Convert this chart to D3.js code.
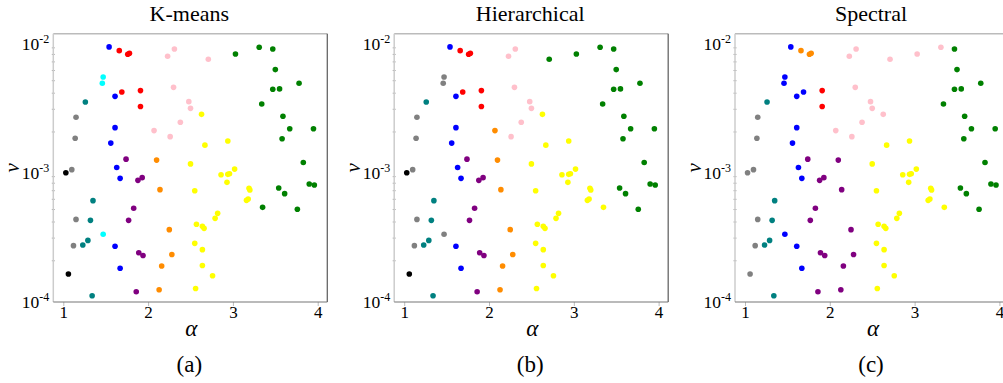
<!DOCTYPE html>
<html>
<head>
<meta charset="utf-8">
<script src="https://cdn.jsdelivr.net/npm/d3@7"></script>
<style>
  body { margin: 0; background: #fff; }
</style>
</head>
<body>
<script>
// point coordinates (same 96 points in every panel)
var alpha = [
  1.54, 1.66, 1.76, 1.78, 2.23, 2.31, 2.71, 3.03, 3.31, 3.47,
  3.50, 1.47, 1.46, 3.78, 1.69, 1.91, 2.30, 3.47, 3.55, 1.26,
  1.61, 2.48, 2.50, 1.91, 3.34, 1.15, 2.63, 3.59, 2.38, 1.61,
  3.67, 3.95, 2.07, 2.26, 1.14, 1.56, 2.67, 2.94, 3.58, 1.74,
  2.10, 2.50, 3.83, 1.63, 3.02, 1.10, 1.03, 1.67, 1.88, 1.93,
  2.86, 2.94, 2.96, 2.93, 3.90, 3.96, 2.14, 2.55, 3.54, 3.19,
  3.20, 3.61, 1.35, 3.18, 3.16, 3.35, 1.83, 3.76, 2.82, 2.79,
  1.15, 1.32, 1.77, 2.57, 2.64, 2.66, 2.25, 1.47, 1.29, 1.23,
  1.12, 1.61, 2.55, 2.64, 1.89, 1.94, 2.28, 2.16, 2.64, 1.67,
  1.06, 2.76, 2.56, 2.13, 1.86, 1.34
];
var nu = [
  9.15e-3, 8.56e-3, 8.02e-3, 8.17e-3, 7.74e-3, 8.82e-3, 7.34e-3, 8.07e-3, 9.09e-3, 8.82e-3,
  6.10e-3, 5.35e-3, 4.78e-3, 4.78e-3, 4.09e-3, 4.19e-3, 4.44e-3, 4.29e-3, 4.32e-3, 3.42e-3,
  3.78e-3, 3.44e-3, 3.05e-3, 3.15e-3, 3.30e-3, 2.60e-3, 2.74e-3, 2.65e-3, 2.38e-3, 2.16e-3,
  2.12e-3, 2.12e-3, 2.05e-3, 1.84e-3, 1.79e-3, 1.64e-3, 1.58e-3, 1.70e-3, 1.77e-3, 1.23e-3,
  1.21e-3, 1.13e-3, 1.16e-3, 1.06e-3, 1.03e-3, 1.02e-3, 9.66e-4, 8.73e-4, 8.42e-4, 8.84e-4,
  9.32e-4, 9.38e-4, 9.49e-4, 8.13e-4, 7.89e-4, 7.75e-4, 7.13e-4, 7.00e-4, 7.35e-4, 7.30e-4,
  7.09e-4, 6.64e-4, 5.86e-4, 6.03e-4, 5.89e-4, 5.20e-4, 5.11e-4, 5.02e-4, 4.67e-4, 4.27e-4,
  4.19e-4, 4.12e-4, 4.12e-4, 3.84e-4, 3.70e-4, 3.57e-4, 3.49e-4, 3.21e-4, 2.88e-4, 2.65e-4,
  2.62e-4, 2.59e-4, 2.73e-4, 2.44e-4, 2.31e-4, 2.20e-4, 2.24e-4, 1.82e-4, 1.84e-4, 1.75e-4,
  1.58e-4, 1.53e-4, 1.22e-4, 1.19e-4, 1.15e-4, 1.07e-4
];

// cluster id of every point, one list per method
// 0 black, 1 gray, 2 teal, 3 cyan, 4 blue, 5 purple, 6 red, 7 orange, 8 pink, 9 yellow, 10 green
var kmeans = [
  4, 6, 6, 6, 8, 8, 8, 10, 10, 10,
  10, 3, 3, 10, 6, 6, 8, 10, 10, 2,
  4, 8, 8, 6, 10, 1, 9, 10, 8, 4,
  10, 10, 8, 8, 1, 4, 9, 9, 10, 5,
  7, 9, 10, 4, 9, 1, 0, 4, 5, 5,
  9, 9, 9, 9, 10, 10, 7, 9, 10, 9,
  9, 10, 2, 9, 9, 10, 5, 10, 9, 9,
  1, 2, 5, 9, 9, 9, 7, 3, 2, 2,
  1, 4, 9, 9, 5, 5, 7, 7, 9, 4,
  0, 9, 9, 7, 5, 2
];
var hierarchical = [
  4, 6, 6, 6, 8, 8, 10, 10, 10, 10,
  10, 1, 1, 10, 6, 6, 8, 10, 10, 2,
  4, 8, 8, 6, 10, 1, 9, 10, 8, 4,
  10, 10, 7, 8, 1, 4, 9, 9, 10, 5,
  7, 9, 10, 4, 9, 1, 0, 4, 5, 5,
  9, 9, 9, 9, 10, 10, 7, 9, 10, 9,
  9, 10, 2, 9, 9, 9, 5, 10, 9, 9,
  1, 2, 5, 9, 9, 9, 7, 1, 2, 2,
  1, 4, 9, 9, 5, 5, 7, 7, 9, 4,
  0, 9, 9, 7, 5, 2
];
var spectral = [
  4, 7, 7, 7, 8, 8, 8, 8, 8, 10,
  10, 4, 4, 10, 4, 6, 8, 10, 10, 2,
  4, 8, 8, 6, 10, 1, 8, 10, 8, 4,
  10, 10, 8, 8, 1, 4, 9, 9, 10, 5,
  5, 9, 10, 4, 9, 1, 1, 4, 5, 5,
  9, 9, 9, 9, 10, 10, 5, 9, 10, 9,
  9, 10, 2, 9, 9, 9, 5, 10, 9, 9,
  1, 2, 5, 9, 9, 9, 5, 4, 2, 2,
  1, 4, 9, 9, 5, 5, 5, 5, 9, 4,
  1, 9, 9, 5, 5, 2
];

var titles = ["K-means", "Hierarchical", "Spectral"];
var captions = ["(a)", "(b)", "(c)"];
var xTicks = [1, 2, 3, 4];
var yTicks = [1e-2, 1e-3, 1e-4];
var clusterColors = ["black", "gray", "teal", "cyan", "blue", "purple",
                     "red", "darkorange", "pink", "yellow", "green"];

var serif = "'Liberation Serif', 'DejaVu Serif', 'Times New Roman', serif";

var width = 1003;
var height = 383;
var svg = d3.select("body").append("svg").attr("width", width).attr("height", height);

var panelLeft = [53.3, 394.2, 735];
var plotW = 274;
var plotTop = 33.7;
var plotBottom = 302;

var x = d3.scaleLinear().domain([0.882, 4.113]).range([0, plotW]);
var y = d3.scaleLog().domain([Math.pow(10, -4.019), Math.pow(10, -1.936)]).range([plotBottom, plotTop]);
var color = d3.scaleOrdinal().domain(d3.range(clusterColors.length)).range(clusterColors);

var points = alpha.map(function(a, i) { return { a: a, v: nu[i], i: i }; });

var minorTicks = [];
[1e-4, 1e-3].forEach(function(base) {
  for (var k = 2; k <= 9; k++) minorTicks.push(base * k);
});

[kmeans, hierarchical, spectral].forEach(function(labels, p) {
  var g = svg.append("g").attr("transform", "translate(" + panelLeft[p] + ",0)");

  // x axis ticks and labels
  var xAxis = g.append("g").attr("transform", "translate(0," + plotBottom + ")")
    .call(d3.axisBottom(x).tickValues(xTicks).tickSize(4).tickPadding(0).tickFormat(d3.format("d")));
  xAxis.select(".domain").remove();
  xAxis.selectAll("line").attr("stroke", "#bbb");
  xAxis.selectAll("text").style("font-size", "17px")
    .style("font-family", serif).attr("fill", "#000");

  // y minor ticks
  g.selectAll(".minor").data(minorTicks).enter().append("line")
    .attr("class", "minor")
    .attr("x1", -1.5).attr("x2", 1.5)
    .attr("y1", function(d) { return y(d); }).attr("y2", function(d) { return y(d); })
    .attr("stroke", "#aaa").attr("stroke-width", 1);

  // y tick labels 10^k
  var yl = g.selectAll(".ylab").data(yTicks).enter().append("text")
    .attr("class", "ylab")
    .attr("x", -4)
    .attr("y", function(d) { return y(d) + 8.5; })
    .attr("text-anchor", "end")
    .style("font-family", serif)
    .style("font-size", "17.5px");
  yl.append("tspan").text("10");
  yl.append("tspan").style("font-size", "12px").attr("dy", -7.5)
    .text(function(d) { return "-" + Math.round(-Math.log10(d)); });

  // points
  g.selectAll("circle").data(points).enter().append("circle")
    .attr("cx", function(d) { return x(d.a); })
    .attr("cy", function(d) { return y(d.v); })
    .attr("r", 2.8)
    .attr("fill", function(d) { return color(labels[d.i]); });

  // frame
  g.append("line").attr("x1", 0).attr("x2", plotW).attr("y1", plotTop).attr("y2", plotTop)
    .attr("stroke", "#bbb").attr("stroke-width", 1.6);
  g.append("line").attr("x1", 0).attr("x2", 0).attr("y1", plotTop).attr("y2", plotBottom)
    .attr("stroke", "#ccc").attr("stroke-width", 1.5);
  g.append("line").attr("x1", plotW).attr("x2", plotW).attr("y1", plotTop).attr("y2", plotBottom)
    .attr("stroke", "#666").attr("stroke-width", 1.3);
  g.append("line").attr("x1", 0).attr("x2", plotW).attr("y1", plotBottom).attr("y2", plotBottom)
    .attr("stroke", "#777").attr("stroke-width", 1.2);

  // title, axis names, caption
  g.append("text").attr("x", plotW / 2 - 1).attr("y", 21)
    .attr("text-anchor", "middle").style("font-family", serif).style("font-size", "22px")
    .text(titles[p]);
  g.append("text").attr("x", plotW / 2 + 1).attr("y", 336)
    .attr("text-anchor", "middle").style("font-family", serif).style("font-size", "23px")
    .style("font-style", "italic").text("α");
  g.append("text")
    .attr("transform", "translate(-34.5," + (plotTop + plotBottom) / 2 + ") rotate(-90)")
    .attr("text-anchor", "middle").style("font-family", serif).style("font-size", "21px")
    .style("font-style", "italic").text("v");
  g.append("text").attr("x", plotW / 2 - 1).attr("y", 372)
    .attr("text-anchor", "middle").style("font-family", serif).style("font-size", "23px")
    .text(captions[p]);
});
</script>
</body>
</html>
